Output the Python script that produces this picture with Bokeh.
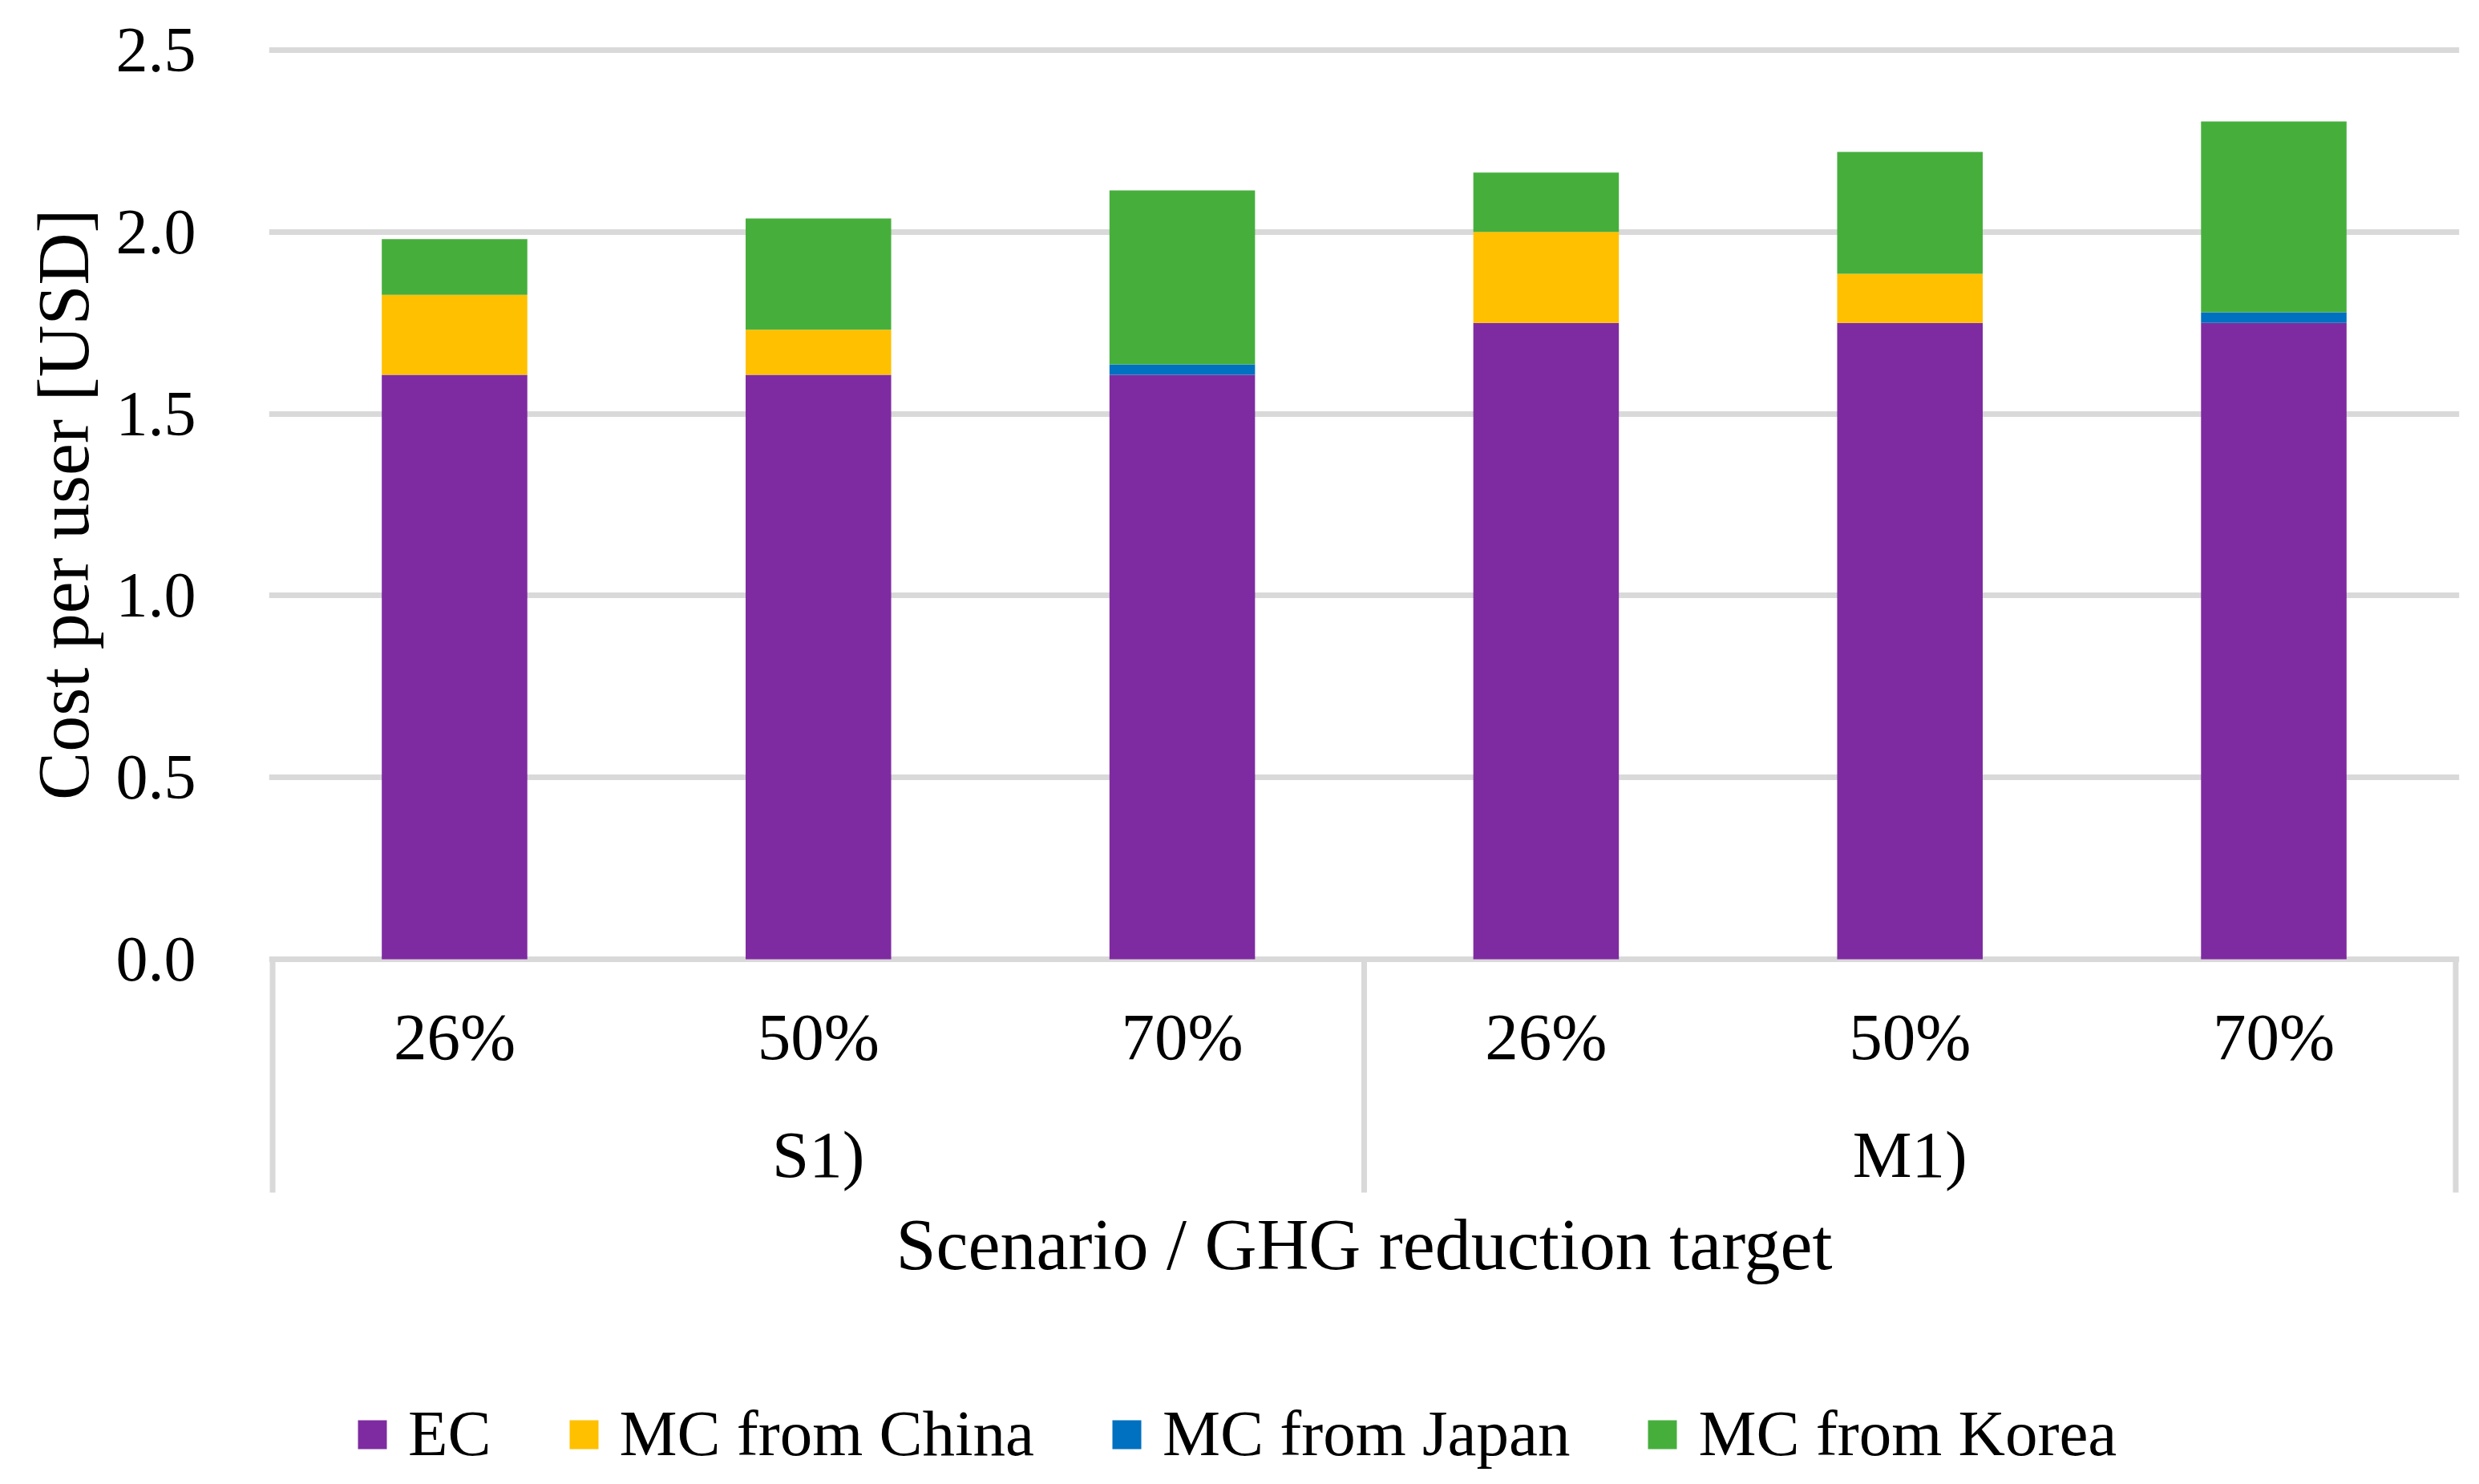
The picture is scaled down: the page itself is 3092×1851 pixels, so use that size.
import math
from bokeh.plotting import figure
from bokeh.models import (ColumnDataSource, Range1d, FixedTicker, PrintfTickFormatter,
                          Legend, LegendItem, Title)
from bokeh.core.properties import value
from bokeh.embed import file_html
from bokeh.resources import INLINE

# ---------------- data ----------------
groups = ["S1)", "M1)"]
targets = ["26%", "50%", "70%"]
series_names = ["EC", "MC from China", "MC from Japan", "MC from Korea"]
ec = [1.607, 1.607, 1.607, 1.750, 1.750, 1.750]
mc_china = [0.220, 0.124, 0.000, 0.250, 0.135, 0.000]
mc_japan = [0.000, 0.000, 0.029, 0.000, 0.000, 0.029]
mc_korea = [0.153, 0.306, 0.478, 0.163, 0.335, 0.525]
y_ticks = [0.0, 0.5, 1.0, 1.5, 2.0, 2.5]
y_title = "Cost per user [USD]"
x_title = "Scenario / GHG reduction target"

# ---------------- style / layout ----------------
colors = ["#7E2BA1", "#FFC000", "#0070C0", "#46AF3C"]
FONT = "Liberation Serif"
W, H = 3076, 1835
PX = 453.6            # pixels per 1 USD
ZERO_Y = 1196         # screen y of value 0
BL, BR, BT = 335, 9, 52
GRID = "#D9D9D9"

n = len(groups) * len(targets)
pad = 0.01
x_start, x_end = -0.5 - pad, n - 0.5 + pad
top_val_px = ZERO_Y - y_ticks[-1] * PX
y_end = y_ticks[-1] + (top_val_px - BT) / PX
y_start = -(H - ZERO_Y) / PX

xs = list(range(n))
cat_labels = [t for g in groups for t in targets]
source = ColumnDataSource(dict(x=xs, EC=ec, China=mc_china, Japan=mc_japan, Korea=mc_korea))
stack_keys = ["EC", "China", "Japan", "Korea"]

p = figure(width=W, height=H, output_backend="svg", toolbar_location=None,
           x_range=Range1d(x_start, x_end), y_range=Range1d(y_start, y_end),
           x_axis_location=None, min_border_left=BL, min_border_right=BR,
           min_border_top=BT, min_border_bottom=0)
p.outline_line_color = None
p.background_fill_color = "white"
p.xgrid.visible = False

# y axis
p.yaxis.ticker = FixedTicker(ticks=y_ticks, minor_ticks=[])
p.yaxis.formatter = PrintfTickFormatter(format="%.1f")
p.yaxis.axis_line_color = None
p.yaxis.major_tick_line_color = None
p.yaxis.minor_tick_line_color = None
p.yaxis.major_tick_out = 0
p.yaxis.major_tick_in = 0
p.yaxis.major_label_standoff = 91
p.yaxis.major_label_text_font = FONT
p.yaxis.major_label_text_font_size = "80px"
p.yaxis.major_label_text_color = "black"

p.ygrid.ticker = FixedTicker(ticks=y_ticks, minor_ticks=[])
p.ygrid.grid_line_color = GRID
p.ygrid.grid_line_width = 7

# bars
renderers = p.vbar_stack(stack_keys, x="x", width=0.4, color=colors, line_color=None,
                         source=source)

# category separators
sep_x = [i * len(targets) - 0.5 for i in range(len(groups) + 1)]
sep_bottom = -(1487 - ZERO_Y) / PX
p.segment(x0=sep_x, y0=[0] * len(sep_x), x1=sep_x, y1=[sep_bottom] * len(sep_x),
          line_color=GRID, line_width=7)

# category labels
p.text(x=xs, y=[0] * n, text=cat_labels, text_font=value(FONT), text_font_size="83px",
       text_align="center", text_baseline="middle", text_color="black", y_offset=96)
grp_x = [i * len(targets) + (len(targets) - 1) / 2 for i in range(len(groups))]
p.text(x=grp_x, y=[0] * len(groups), text=groups, text_font=value(FONT), text_font_size="83px",
       text_align="center", text_baseline="middle", text_color="black", y_offset=243)
p.text(x=[(n - 1) / 2], y=[0], text=[x_title], text_font=value(FONT), text_font_size="90px",
       text_align="center", text_baseline="middle", text_color="black", y_offset=356)

# y title (left side panel; top end of the text placed by offset from frame top)
ytitle = Title(text=y_title, align="right", offset=208,
               text_font=FONT, text_font_size="90px", text_font_style="normal",
               text_color="black", standoff=26)
p.add_layout(ytitle, "left")

# legend (proxy square markers, no visible data)
nan = float("nan")
proxies = [p.scatter(x=[nan], y=[nan], marker="square", size=10, fill_color=c, line_color=None)
           for c in colors]
legend = Legend(items=[LegendItem(label=nm, renderers=[r]) for nm, r in zip(series_names, proxies)],
                orientation="horizontal", location=(84, 0), glyph_width=90, glyph_height=90,
                label_height=90, label_standoff=0, spacing=70, padding=0, margin=0,
                border_line_color=None, background_fill_alpha=0,
                label_text_font=FONT, label_text_font_size="81px", label_text_color="black")
p.add_layout(legend)

open("out.html", "w").write(file_html(p, INLINE))
